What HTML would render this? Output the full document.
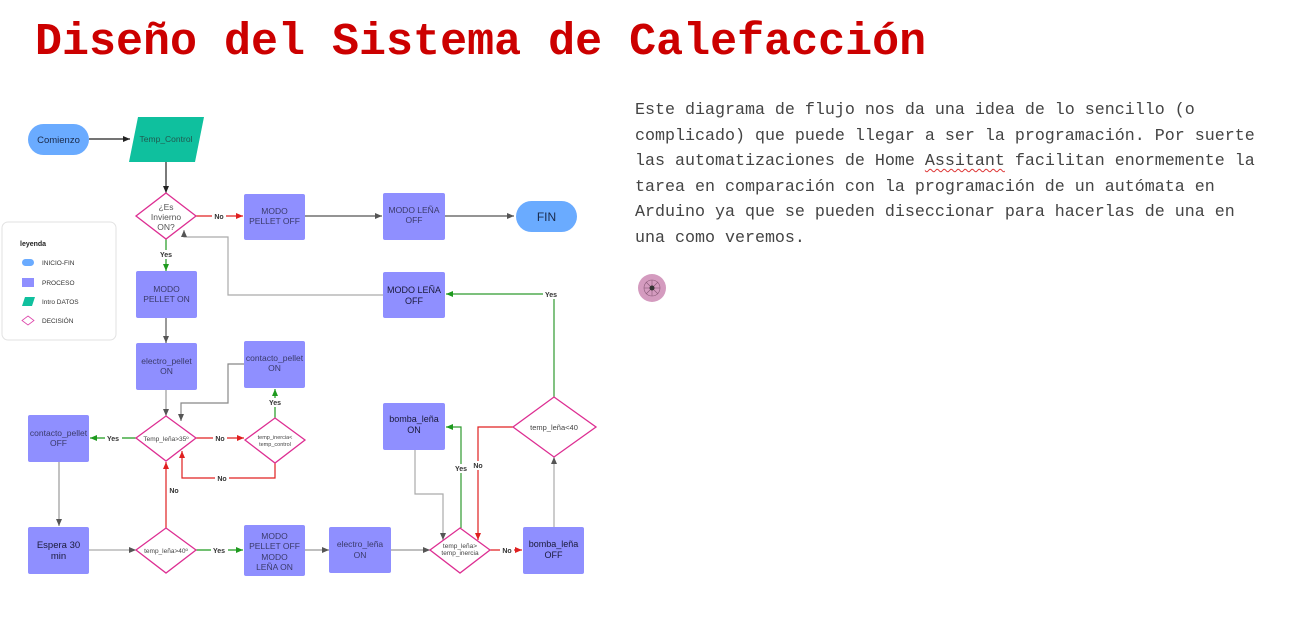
<!DOCTYPE html>
<html><head><meta charset="utf-8"><style>
html,body{margin:0;padding:0;background:#fff;width:1302px;height:636px;overflow:hidden;position:relative}
.t{position:absolute;left:35px;top:13px;font:bold 45px/60px "Liberation Mono",monospace;color:#cc0000;white-space:nowrap}
.p{position:absolute;left:635px;top:98px;width:660px;font:16.67px/25.6px "Liberation Mono",monospace;color:#444;white-space:pre}
.u{text-decoration:underline wavy #d33;text-decoration-thickness:1px;text-underline-offset:3px}
svg{position:absolute;left:0;top:0}
</style></head><body>
<div class="t">Diseño del Sistema de Calefacción</div>
<div class="p">Este diagrama de flujo nos da una idea de lo sencillo (o
complicado) que puede llegar a ser la programación. Por suerte
las automatizaciones de Home <span class="u">Assitant</span> facilitan enormemente la
tarea en comparación con la programación de un autómata en
Arduino ya que se pueden diseccionar para hacerlas de una en
una como veremos.</div>
<svg width="1302" height="636" viewBox="0 0 1302 636" font-family="Liberation Sans, sans-serif">
<defs>
<marker id="ak" markerWidth="8" markerHeight="8" refX="7" refY="4" orient="auto" markerUnits="userSpaceOnUse"><path d="M0,1 L7,4 L0,7z" fill="#222"/></marker>
<marker id="ag" markerWidth="8" markerHeight="8" refX="7" refY="4" orient="auto" markerUnits="userSpaceOnUse"><path d="M0,1 L7,4 L0,7z" fill="#555"/></marker>
<marker id="ar" markerWidth="8" markerHeight="8" refX="7" refY="4" orient="auto" markerUnits="userSpaceOnUse"><path d="M0,1 L7,4 L0,7z" fill="#e02020"/></marker>
<marker id="aG" markerWidth="8" markerHeight="8" refX="7" refY="4" orient="auto" markerUnits="userSpaceOnUse"><path d="M0,1 L7,4 L0,7z" fill="#1e9a1e"/></marker>
</defs>
<circle cx="652" cy="288" r="14" fill="#d49bbf"/>
<g stroke="#8a5a78" stroke-width="0.6" fill="none"><circle cx="652" cy="288" r="8"/><line x1="644" y1="288" x2="660" y2="288"/><line x1="652" y1="280" x2="652" y2="296"/><line x1="646" y1="282" x2="658" y2="294"/><line x1="658" y1="282" x2="646" y2="294"/></g>
<circle cx="652" cy="288" r="2.5" fill="#333"/>
<!-- legend -->
<rect x="2" y="222" width="114" height="118" rx="6" fill="#fff" stroke="#e2e2e2"/>
<text x="20" y="246" font-size="7" font-weight="bold" fill="#222">leyenda</text>
<rect x="22" y="259" width="12" height="7" rx="3.5" fill="#6aabff"/>
<text x="42" y="265" font-size="6.5" fill="#333">INICIO-FIN</text>
<rect x="22" y="278" width="12" height="9" fill="#8f8fff"/>
<text x="42" y="285" font-size="6.5" fill="#333">PROCESO</text>
<path d="M25,297 L35,297 L32,306 L22,306z" fill="#10c09e"/>
<text x="42" y="304" font-size="6.5" fill="#333">Intro DATOS</text>
<path d="M28,316 L34,320.5 L28,325 L22,320.5z" fill="none" stroke="#dd44aa" stroke-width="0.8"/>
<text x="42" y="323" font-size="6.5" fill="#333">DECISIÓN</text>

<g stroke-width="1.2" fill="none">
<line x1="89" y1="139" x2="130" y2="139" stroke="#222" marker-end="url(#ak)"/>
<line x1="166" y1="162" x2="166" y2="193" stroke="#222" marker-end="url(#ak)"/>
<line x1="196" y1="216" x2="243" y2="216" stroke="#e02020" marker-end="url(#ar)"/>
<line x1="305" y1="216" x2="382" y2="216" stroke="#555" marker-end="url(#ag)"/>
<line x1="445" y1="216" x2="514" y2="216" stroke="#555" marker-end="url(#ag)"/>
<line x1="166" y1="239" x2="166" y2="271" stroke="#1e9a1e" marker-end="url(#aG)"/>
<line x1="166" y1="318" x2="166" y2="343" stroke="#555" marker-end="url(#ag)"/>
<line x1="166" y1="390" x2="166" y2="416" stroke="#999" marker-end="url(#ag)"/>
<line x1="136" y1="438" x2="90" y2="438" stroke="#1e9a1e" marker-end="url(#aG)"/>
<line x1="196" y1="438" x2="244" y2="438" stroke="#e02020" marker-end="url(#ar)"/>
<line x1="275" y1="418" x2="275" y2="389" stroke="#1e9a1e" marker-end="url(#aG)"/>
<polyline points="244,364 228,364 228,403 181,403 181,421" stroke="#888" marker-end="url(#ag)"/>
<polyline points="275,463 275,478 182,478 182,451" stroke="#e02020" marker-end="url(#ar)"/>
<line x1="59" y1="462" x2="59" y2="526" stroke="#999" marker-end="url(#ag)"/>
<line x1="89" y1="550" x2="136" y2="550" stroke="#aaa" marker-end="url(#ag)"/>
<line x1="166" y1="528" x2="166" y2="462" stroke="#e02020" marker-end="url(#ar)"/>
<line x1="196" y1="550" x2="243" y2="550" stroke="#1e9a1e" marker-end="url(#aG)"/>
<line x1="305" y1="550" x2="329" y2="550" stroke="#999" marker-end="url(#ag)"/>
<line x1="391" y1="550" x2="430" y2="550" stroke="#999" marker-end="url(#ag)"/>
<line x1="490" y1="550" x2="522" y2="550" stroke="#e02020" marker-end="url(#ar)"/>
<line x1="554" y1="527" x2="554" y2="457" stroke="#aaa" marker-end="url(#ag)"/>
<polyline points="554,397 554,294 446,294" stroke="#2e9a2e" marker-end="url(#aG)"/>
<polyline points="383,295 228,295 228,237 184,237 184,230" stroke="#aaa" marker-end="url(#ag)"/>
<polyline points="513,427 478,427 478,540" stroke="#e02020" marker-end="url(#ar)"/>
<polyline points="461,528 461,427 446,427" stroke="#2e9a2e" marker-end="url(#aG)"/>
<polyline points="415,450 415,494 443,494 443,540" stroke="#aaa" marker-end="url(#ag)"/>
</g>
<!-- connector labels -->
<g font-size="7" font-weight="bold" fill="#333" text-anchor="middle">
<rect x="212" y="212" width="14" height="8" fill="#fff"/><text x="219" y="219">No</text>
<rect x="158" y="250" width="16" height="9" fill="#fff"/><text x="166" y="257">Yes</text>
<rect x="105" y="434" width="17" height="9" fill="#fff"/><text x="113" y="441">Yes</text>
<rect x="213" y="434" width="14" height="8" fill="#fff"/><text x="220" y="441">No</text>
<rect x="267" y="398" width="17" height="9" fill="#fff"/><text x="275" y="405">Yes</text>
<rect x="215" y="474" width="14" height="8" fill="#fff"/><text x="222" y="481">No</text>
<rect x="167" y="486" width="14" height="9" fill="#fff"/><text x="174" y="493">No</text>
<rect x="211" y="546" width="17" height="9" fill="#fff"/><text x="219" y="553">Yes</text>
<rect x="500" y="546" width="14" height="8" fill="#fff"/><text x="507" y="553">No</text>
<rect x="543" y="290" width="17" height="9" fill="#fff"/><text x="551" y="297">Yes</text>
<rect x="453" y="464" width="17" height="9" fill="#fff"/><text x="461" y="471">Yes</text>
<rect x="471" y="461" width="14" height="9" fill="#fff"/><text x="478" y="468">No</text>
</g>
<!-- shapes -->
<rect x="28" y="124" width="61" height="31" rx="15.5" fill="#6aabff"/>
<text x="58.5" y="143" font-size="9.5" fill="#1a2a4a" text-anchor="middle">Comienzo</text>
<path d="M138,117 L204,117 L195,162 L129,162z" fill="#0fc09e"/>
<text x="166" y="142" font-size="8.5" fill="#215a50" text-anchor="middle">Temp_Control</text>
<rect x="516" y="201" width="61" height="31" rx="15.5" fill="#6aabff"/>
<text x="546.5" y="221" font-size="12" fill="#1a2a4a" text-anchor="middle">FIN</text>

<g fill="#8f8fff">
<rect x="244" y="194" width="61" height="46" rx="2"/>
<rect x="383" y="193" width="62" height="47" rx="2"/>
<rect x="136" y="271" width="61" height="47" rx="2"/>
<rect x="383" y="272" width="62" height="46" rx="2"/>
<rect x="136" y="343" width="61" height="47" rx="2"/>
<rect x="244" y="341" width="61" height="47" rx="2"/>
<rect x="28" y="415" width="61" height="47" rx="2"/>
<rect x="383" y="403" width="62" height="47" rx="2"/>
<rect x="28" y="527" width="61" height="47" rx="2"/>
<rect x="244" y="525" width="61" height="51" rx="2"/>
<rect x="329" y="527" width="62" height="46" rx="2"/>
<rect x="523" y="527" width="61" height="47" rx="2"/>
</g>
<g fill="#fff" stroke="#dd2e92" stroke-width="1.3">
<path d="M166,193 L196,216 L166,239 L136,216z"/>
<path d="M166,416 L196,438 L166,461 L136,438z"/>
<path d="M275,418 L305,440 L275,463 L245,440z"/>
<path d="M166,528 L196,550 L166,573 L136,550z"/>
<path d="M460,528 L490,550 L460,573 L430,550z"/>
<path d="M554,397 L596,427 L554,457 L513,427z"/>
</g>
<g font-size="8.5" fill="#3a3a6a" text-anchor="middle">
<text x="166" y="210" fill="#555">¿Es</text><text x="166" y="220" fill="#555">Invierno</text><text x="166" y="230" fill="#555">ON?</text>
<text x="274.5" y="214">MODO</text><text x="274.5" y="224">PELLET OFF</text>
<text x="414" y="213">MODO LEÑA</text><text x="414" y="223">OFF</text>
<text x="166.5" y="292">MODO</text><text x="166.5" y="302">PELLET ON</text>
<text x="414" y="293" fill="#1a1a3a" font-size="9">MODO LEÑA</text><text x="414" y="304" fill="#1a1a3a" font-size="9">OFF</text>
<text x="166.5" y="364">electro_pellet</text><text x="166.5" y="374">ON</text>
<text x="274.5" y="361">contacto_pellet</text><text x="274.5" y="371">ON</text>
<text x="58.5" y="436">contacto_pellet</text><text x="58.5" y="446">OFF</text>
<text x="414" y="422" fill="#1a1a3a" font-size="9">bomba_leña</text><text x="414" y="433" fill="#1a1a3a" font-size="9">ON</text>
<text x="58.5" y="548" fill="#1a1a3a" font-size="9.5">Espera 30</text><text x="58.5" y="559" fill="#1a1a3a" font-size="9.5">min</text>
<text x="274.5" y="539">MODO</text><text x="274.5" y="549">PELLET OFF</text><text x="274.5" y="560">MODO</text><text x="274.5" y="570">LEÑA ON</text>
<text x="360" y="547">electro_leña</text><text x="360" y="558">ON</text>
<text x="553.5" y="547" fill="#1a1a3a" font-size="9">bomba_leña</text><text x="553.5" y="558" fill="#1a1a3a" font-size="9">OFF</text>
</g>
<g font-size="6.5" fill="#444" text-anchor="middle">
<text x="166" y="441">Temp_leña&gt;35º</text>
<text x="275" y="439" font-size="5.5">temp_inercia&lt;</text><text x="275" y="446" font-size="5.5">temp_control</text>
<text x="166" y="553">temp_leña&gt;40º</text>
<text x="460" y="548">temp_leña&gt;</text><text x="460" y="555">temp_inercia</text>
<text x="554" y="430" font-size="7.5">temp_leña&lt;40</text>
</g>
</svg>
</body></html>
